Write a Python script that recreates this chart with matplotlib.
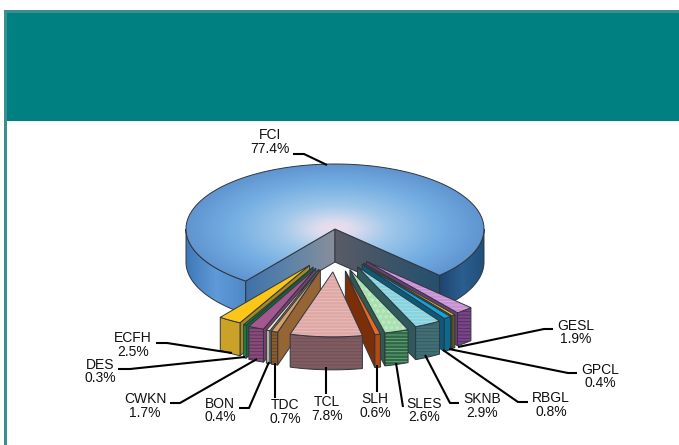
# -*- coding: utf-8 -*-
"""
Exploded 3D style pie drawn on a pixel sized axes.
"""
import numpy as np
import matplotlib
matplotlib.use("Agg")
import matplotlib.pyplot as plt
from matplotlib.colors import LinearSegmentedColormap
from matplotlib.patches import Polygon, Rectangle

plt.rcParams['font.family'] = ['Liberation Sans', 'DejaVu Sans']
plt.rcParams['hatch.linewidth'] = 0.6

# data, clockwise starting with the big slice
names = ["FCI", "GESL", "GPCL", "RBGL", "SKNB", "SLES", "SLH",
         "TCL", "TDC", "BON", "CWKN", "DES", "ECFH"]
shares = [77.4, 1.9, 0.4, 0.8, 2.9, 2.6, 0.6, 7.8, 0.7, 0.4, 1.7, 0.3, 2.5]

top_colors = ["#6ea5dc", "#c88fd2", "#d8c41e", "#12a4e0", "#86d3df", "#a9e0b0",
              "#f4661c", "#dfa8a5", "#d9a066", "#e6e2c6", "#a5588d", "#12853f", "#fbc617"]
front_colors = ["#4f88c8", "#7a4488", "#5f5a1a", "#0b6b8f", "#426f76", "#2c6a44",
                "#b8480f", "#7f5c61", "#8d5c2c", "#b5b39c", "#8a4a7c", "#1f8a45", "#c9a227"]
cut_colors = ["#3f72a8", "#6a3d78", "#55521a", "#0d5a78", "#2f5a5c", "#2f5a52",
              "#7a2f08", "#6f5055", "#956535", "#8f8e7a", "#7a3f70", "#136a35", "#a88a1c"]
top_hatch = [None, "-----", None, None, "-----", "ooo", None, "-----", None, None, None, None, None]
front_hatch = [None, "-----", None, None, "-----", "-----", None, "-----", "-----", None, "-----", None, None]
front_hatch_colors = ["#00000055", "#00000055", "#00000055", "#00000055", "#00000033", "#b8e0c088",
                      "#00000055", "#00000022", "#00000044", "#00000055", "#00000055", "#00000055", "#00000055"]

# text position (two lines) and leader line for each label
label_pos = {
    "FCI": (270, 135, 149), "GESL": (576, 326, 339), "GPCL": (600, 370, 383),
    "RBGL": (551, 398, 412), "SKNB": (482, 399, 413), "SLES": (424, 404, 417),
    "SLH": (375, 399, 413), "TCL": (327, 402, 416), "TDC": (285, 405, 419),
    "BON": (220, 404, 417), "CWKN": (145, 399, 413), "DES": (100, 365, 378),
    "ECFH": (133, 338, 352),
}
leaders = {
    "FCI": [(293, 154), (304, 154), (327, 165)],
    "GESL": [(553, 329), (544, 329), (458, 347)],
    "GPCL": [(577, 373), (568, 373), (449, 349)],
    "RBGL": [(528, 402), (518, 402), (443, 350)],
    "SKNB": [(459, 403), (450, 403), (425, 355)],
    "SLES": [(403, 407), (396, 363)],
    "SLH": [(377, 392), (377, 365)],
    "TCL": [(326, 394), (326, 367)],
    "TDC": [(275, 398), (275, 363)],
    "BON": [(239, 408), (249, 408), (269, 362)],
    "CWKN": [(170, 403), (180, 403), (257, 359)],
    "DES": [(118, 369), (130, 369), (245, 357)],
    "ECFH": [(156, 343), (167, 343), (232, 353)],
}

# pie geometry in pixels
CX, CY = 335, 229
RX, RY = 149, 65
DEPTH = 33
START = -143.2
EXPLODE_X, EXPLODE_Y = 0.32, 0.66
EDGE = "#2f3640"

fig = plt.figure(figsize=(6.79, 4.45), dpi=100)
ax = fig.add_axes([0, 0, 1, 1])
z = [2]


def next_z():
    z[0] += 1
    return z[0]


def arc(a1, a2, cx, cy, n=60):
    t = np.radians(np.linspace(a1, a2, n))
    return np.column_stack([cx + RX * np.sin(t), cy - RY * np.cos(t)])


def shape(verts, color, hatch=None, hatch_color="#00000055", lw=0.7):
    zo = next_z()
    ax.add_patch(Polygon(verts, closed=True, fc=color, ec="none", zorder=zo))
    if hatch:
        ax.add_patch(Polygon(verts, closed=True, fc="none", ec=hatch_color, lw=0,
                             hatch=hatch, zorder=zo))
    ax.add_patch(Polygon(verts, closed=True, fc="none", ec=EDGE, lw=lw, zorder=zo))


def gradient(verts, colors):
    # horizontal gradient clipped to a polygon
    zo = next_z()
    verts = np.asarray(verts)
    cmap = LinearSegmentedColormap.from_list("g", colors)
    im = ax.imshow(np.linspace(0, 1, 256).reshape(1, -1), cmap=cmap, aspect="auto", zorder=zo,
                   extent=[verts[:, 0].min(), verts[:, 0].max(), verts[:, 1].max(), verts[:, 1].min()])
    clip = Polygon(verts, closed=True, fc="none", ec=EDGE, lw=0.7, zorder=zo)
    ax.add_patch(clip)
    im.set_clip_path(clip)


def draw_big_slice(a1, a2):
    # side walls first
    left = arc(a1 + 360, 270, CX, CY)
    gradient(np.vstack([left, left[::-1] + [0, DEPTH]]), ["#3f78b8", "#5f9ad8", "#4f88c8"])
    right = arc(90, a2, CX, CY)
    gradient(np.vstack([right, right[::-1] + [0, DEPTH]]), ["#1f4570", "#2b5f8f", "#214e78"])
    # cut faces
    p1 = arc(a1, a1, CX, CY, 1)[0]
    p2 = arc(a2, a2, CX, CY, 1)[0]
    c = np.array([CX, CY])
    d = np.array([0, DEPTH])
    gradient([c, p1, p1 + d, c + d], ["#3f72a8", "#5f84a8", "#8a8f9a"])
    gradient([c, c + d, p2 + d, p2], ["#5a5c66", "#3f5468", "#23506f"])
    # top face, colour goes out from the centre
    verts = np.vstack([c, arc(a1, a2, CX, CY, 200)])
    xx, yy = np.meshgrid(np.linspace(-1, 1, 300), np.linspace(-1, 1, 200))
    rr = np.clip(np.sqrt(xx ** 2 + yy ** 2), 0, 1)
    cmap = LinearSegmentedColormap.from_list(
        "top", [(0, "#f0dcee"), (0.12, "#dcdcee"), (0.36, "#a0c8ea"), (0.7, "#74aee2"), (1, "#6095d0")])
    zo = next_z()
    im = ax.imshow(rr, cmap=cmap, aspect="auto", zorder=zo,
                   extent=[CX - RX, CX + RX, CY + RY, CY - RY])
    clip = Polygon(verts, closed=True, fc="none", ec=EDGE, lw=0.7, zorder=zo)
    ax.add_patch(clip)
    im.set_clip_path(clip)


def draw_slice(i, a1, a2):
    mid = np.radians((a1 + a2) / 2)
    ox = CX + EXPLODE_X * RX * np.sin(mid)
    oy = CY - EXPLODE_Y * RY * np.cos(mid)
    apex = np.array([ox, oy])
    d = np.array([0, DEPTH])
    outer = arc(a1, a2, ox, oy, 30)
    # the cut wall that faces the viewer
    if a2 < 180:
        p = outer[-1]
        shape([apex, p, p + d, apex + d], cut_colors[i])
    elif a1 > 180:
        p = outer[0]
        shape([apex, p, p + d, apex + d], cut_colors[i])
    shape(np.vstack([outer, outer[::-1] + d]), front_colors[i], front_hatch[i], front_hatch_colors[i])
    shape(np.vstack([apex, outer]), top_colors[i], top_hatch[i], "#ffffff44")


# frame
ax.add_patch(Rectangle((4, 10), 675, 111, fc="#008080", ec="none", zorder=1))
ax.add_patch(Rectangle((4, 10), 675, 2.5, fc="#3a9090", ec="none", zorder=1))
ax.add_patch(Rectangle((4, 10), 2.5, 435, fc="#3a9090", ec="none", zorder=1))

# angles from the shares
ends = START + np.cumsum(shares) * 3.6
starts = np.concatenate([[START], ends[:-1]])

draw_big_slice(starts[0], ends[0])
order = sorted(range(1, len(names)), key=lambda k: -abs((starts[k] + ends[k]) / 2 - 180))
for k in order:
    draw_slice(k, starts[k], ends[k])

# labels
for name, share in zip(names, shares):
    x, y1, y2 = label_pos[name]
    ax.text(x, y1, name, ha="center", va="center", fontsize=10, color="#111111", zorder=100)
    ax.text(x, y2, f"{share}%", ha="center", va="center", fontsize=10, color="#111111", zorder=100)
    pts = np.array(leaders[name])
    ax.plot(pts[:, 0], pts[:, 1], color="black", lw=1.5, zorder=99, solid_capstyle="butt")

ax.set_xlim(0, 679)
ax.set_ylim(445, 0)
ax.axis("off")
fig.savefig("out.png", dpi=100)
